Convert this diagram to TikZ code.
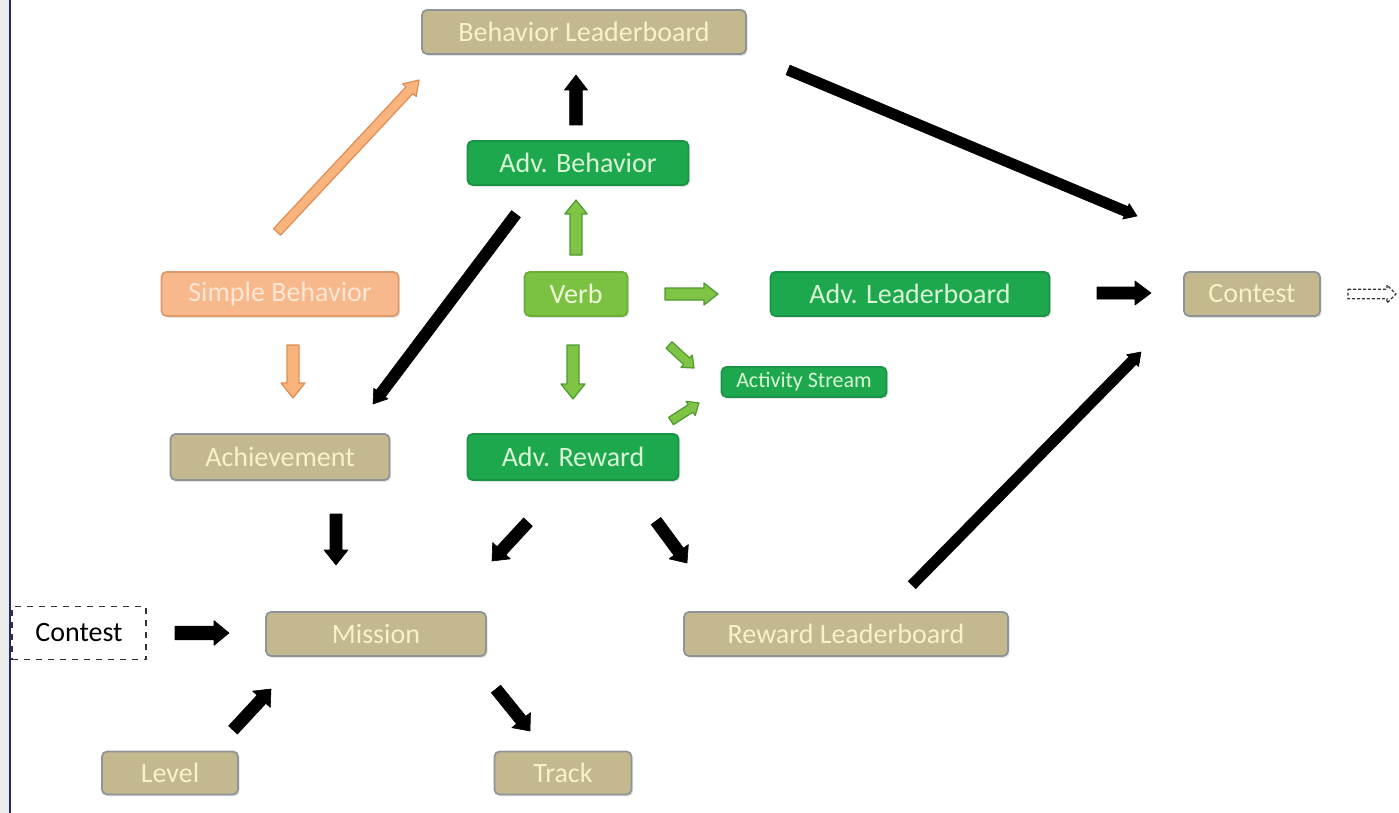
\documentclass[tikz,border=0pt]{standalone}
\usepackage{fontspec}
\setmainfont{Carlito}
\usetikzlibrary{calc,shadows}
\definecolor{tanfill}{HTML}{C4B98E}
\definecolor{tanline}{HTML}{8E9499}
\definecolor{tantext}{HTML}{F8F1C9}
\definecolor{dkgreen}{HTML}{1EA84E}
\definecolor{dkgreenline}{HTML}{1A9444}
\definecolor{greentext}{HTML}{D8F6D6}
\definecolor{ltgreen}{HTML}{7CC242}
\definecolor{ltgreenline}{HTML}{6AAE38}
\definecolor{verbtext}{HTML}{EEF8DA}
\definecolor{orfill}{HTML}{F7B98C}
\definecolor{orline}{HTML}{E09A68}
\definecolor{ortext}{HTML}{FCE7D6}
\definecolor{grarrfill}{HTML}{80C445}
\definecolor{grarrline}{HTML}{4E9A32}
\definecolor{orarrfill}{HTML}{F8B47C}
\definecolor{orarrline}{HTML}{DE8E55}
\definecolor{navy}{HTML}{1F2A6B}
\newcommand\blockarrow[6]{%
  \path ($(#3)!#6!(#2)$) coordinate (bhd);
  \draw[#1] ($(#2)!#4!90:(#3)$) -- ($(bhd)!#4!90:(#3)$) -- ($(bhd)!#5!90:(#3)$) -- (#3)
    -- ($(bhd)!#5!-90:(#3)$) -- ($(bhd)!#4!-90:(#3)$) -- ($(#2)!#4!-90:(#3)$) -- cycle;
}
\tikzset{
  box/.style={rounded corners=2.5pt, line width=0.9pt, inner sep=0pt,
    font=\fontsize{14}{16}\selectfont, minimum height=22pt,
    drop shadow={opacity=0.22, shadow xshift=0.8pt, shadow yshift=-0.9pt}},
  tanbox/.style={box, fill=tanfill, draw=tanline, text=tantext},
  greenbox/.style={box, fill=dkgreen, draw=dkgreenline, text=greentext},
  verbbox/.style={box, fill=ltgreen, draw=ltgreenline, text=verbtext},
  orbox/.style={box, fill=orfill, draw=orline, text=ortext},
  dashbox/.style={draw=black!80, dashed, line width=0.6pt, fill=white, text=black,
    font=\fontsize{14}{16}\selectfont, inner sep=0pt},
  blackarr/.style={fill=black, draw=black, line width=0.3pt, line join=round},
  greenarr/.style={fill=grarrfill, draw=grarrline, line width=0.6pt, line join=round},
  orarr/.style={fill=orarrfill, draw=orarrline, line width=0.6pt, line join=round},
  dasharr/.style={fill=white, draw=black!80, line width=0.6pt, dash pattern=on 1.5pt off 1pt}
}
\begin{document}
\begin{tikzpicture}[x=0.5pt,y=-0.5pt]
\useasboundingbox (0,0) rectangle (1399,813);
\fill[white] (0,0) rectangle (1399,813);
\fill[black!8] (0,0) rectangle (9,813);
\draw[navy, line width=0.9pt] (10,0) -- (10,813);

% nodes
\node[tanbox, minimum width=162pt] (bl) at (584,32) {Behavior Leaderboard};
\node[greenbox, minimum width=110.5pt] (advb) at (578,163) {Adv. Behavior};
\node[orbox, minimum width=118.5pt] (sb) at (280,294) {Simple Behavior};
\node[verbbox, minimum width=51.5pt] (verb) at (576,294) {Verb};
\node[greenbox, minimum width=139.5pt] (advl) at (910,294) {Adv. Leaderboard};
\node[tanbox, minimum width=68pt] (contr) at (1252,294) {Contest};
\node[greenbox, minimum width=82.5pt, minimum height=15pt, font=\fontsize{11}{13}\selectfont] (as) at (804,382) {Activity Stream};
\node[tanbox, minimum width=109.5pt, minimum height=23pt] (ach) at (280,457) {Achievement};
\node[greenbox, minimum width=105.5pt, minimum height=23pt] (advr) at (573,457) {Adv. Reward};
\node[dashbox, minimum width=67pt, minimum height=26.5pt] (contl) at (79,633) {Contest};
\node[tanbox, minimum width=110pt] (mis) at (376,634) {Mission};
\node[tanbox, minimum width=162pt] (rl) at (846,634) {Reward Leaderboard};
\node[tanbox, minimum width=68pt, minimum height=21.5pt] (lev) at (170,773) {Level};
\node[tanbox, minimum width=68.5pt, minimum height=21.5pt] (trk) at (563,773) {Track};

% arrow end points
\coordinate (ab-bl-s) at (576,125);   \coordinate (ab-bl-e) at (576,75);
\coordinate (bl-c-s) at (788,70);     \coordinate (bl-c-e) at (1137,216);
\coordinate (ab-ac-s) at (516,214);   \coordinate (ab-ac-e) at (373,404);
\coordinate (al-c-s) at (1097,293);   \coordinate (al-c-e) at (1151,293);
\coordinate (rl-c-s) at (912,585);    \coordinate (rl-c-e) at (1141,352);
\coordinate (ac-m-s) at (336,514);    \coordinate (ac-m-e) at (336,565);
\coordinate (ar-m-s) at (528,522);    \coordinate (ar-m-e) at (492,561);
\coordinate (ar-rl-s) at (656,521);   \coordinate (ar-rl-e) at (687,563);
\coordinate (cl-m-s) at (175,633);    \coordinate (cl-m-e) at (229,633);
\coordinate (lv-m-s) at (233,730);    \coordinate (lv-m-e) at (271,689);
\coordinate (m-tr-s) at (496,689);    \coordinate (m-tr-e) at (530,731);
\coordinate (sb-bl-s) at (277,232);   \coordinate (sb-bl-e) at (419,80);
\coordinate (sb-ac-s) at (293,345);   \coordinate (sb-ac-e) at (293,398);
\coordinate (v-ab-s) at (576,255);    \coordinate (v-ab-e) at (576,200);
\coordinate (v-al-s) at (665,294);    \coordinate (v-al-e) at (718,294);
\coordinate (v-ar-s) at (573,345);    \coordinate (v-ar-e) at (573,399);
\coordinate (v-as-s) at (669,345);    \coordinate (v-as-e) at (694,368);
\coordinate (ar-as-s) at (671,421);   \coordinate (ar-as-e) at (699,403);
\coordinate (cr-x-s) at (1348,294);   \coordinate (cr-x-e) at (1396,294);

% black arrows
\blockarrow{blackarr}{ab-bl-s}{ab-bl-e}{3.2pt}{5.8pt}{7.5pt}
\blockarrow{blackarr}{bl-c-s}{bl-c-e}{2.6pt}{4.2pt}{6pt}
\blockarrow{blackarr}{ab-ac-s}{ab-ac-e}{2.8pt}{4.4pt}{6.5pt}
\blockarrow{blackarr}{al-c-s}{al-c-e}{3pt}{6pt}{8pt}
\blockarrow{blackarr}{rl-c-s}{rl-c-e}{2.6pt}{4.2pt}{6pt}
\blockarrow{blackarr}{ac-m-s}{ac-m-e}{3pt}{6pt}{7.5pt}
\blockarrow{blackarr}{ar-m-s}{ar-m-e}{3pt}{6pt}{7pt}
\blockarrow{blackarr}{ar-rl-s}{ar-rl-e}{3pt}{6pt}{7pt}
\blockarrow{blackarr}{cl-m-s}{cl-m-e}{3.4pt}{6.2pt}{7.5pt}
\blockarrow{blackarr}{lv-m-s}{lv-m-e}{3pt}{6pt}{7pt}
\blockarrow{blackarr}{m-tr-s}{m-tr-e}{3pt}{6pt}{7pt}

% orange arrows
\blockarrow{orarr}{sb-bl-s}{sb-bl-e}{2.4pt}{4.6pt}{7pt}
\blockarrow{orarr}{sb-ac-s}{sb-ac-e}{3pt}{6pt}{7.5pt}

% green arrows
\blockarrow{greenarr}{v-ab-s}{v-ab-e}{3pt}{5.6pt}{7pt}
\blockarrow{greenarr}{v-al-s}{v-al-e}{3pt}{5.5pt}{7pt}
\blockarrow{greenarr}{v-ar-s}{v-ar-e}{3pt}{6pt}{7.5pt}
\blockarrow{greenarr}{v-as-s}{v-as-e}{2.2pt}{4.2pt}{5pt}
\blockarrow{greenarr}{ar-as-s}{ar-as-e}{2.2pt}{4.2pt}{5pt}

% dashed outgoing arrow
\blockarrow{dasharr}{cr-x-s}{cr-x-e}{2.4pt}{4.5pt}{4.5pt}
\end{tikzpicture}
\end{document}
